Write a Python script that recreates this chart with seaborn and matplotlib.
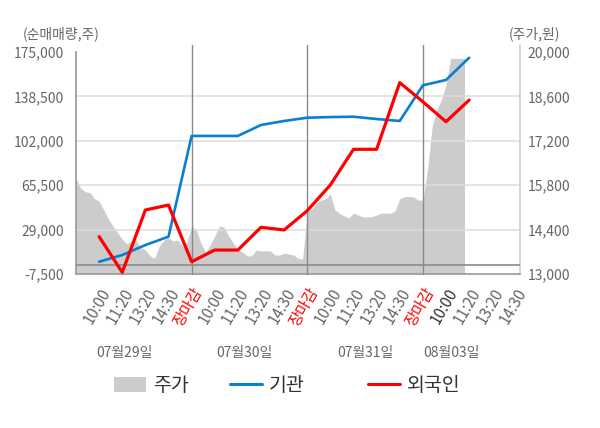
import numpy as np
import pandas as pd
import seaborn as sns
import matplotlib
matplotlib.use("Agg")
import matplotlib.pyplot as plt
import matplotlib.transforms as mtransforms
from matplotlib.patches import Patch
from matplotlib.lines import Line2D

# ---------------- data ----------------
tick_labels = ["10:00", "11:20", "13:20", "14:30", "장마감",
               "10:00", "11:20", "13:20", "14:30", "장마감",
               "10:00", "11:20", "13:20", "14:30", "장마감",
               "10:00", "11:20", "13:20", "14:30"]
day_labels = ["07월29일", "07월30일", "07월31일", "08월03일"]
series_names = ["주가", "기관", "외국인"]

# net buying volume (shares)
inst = [2600, 8100, 16300, 23200, 106000, 106000, 106000, 115000, 118300,
        121000, 121500, 121800, 119900, 118300, 147600, 152000, 170300]
foreign = [23200, -6100, 45100, 49200, 2600, 12200, 12200, 30900, 28700,
           44500, 65700, 95000, 95000, 149800, 134100, 117700, 135500]

# intraday stock price (won), sampled every 0.2 slot starting at slot -1
price = [16030, 15710, 15590, 15570, 15370, 15300, 15020, 14730, 14510, 14290,
         14100, 13950, 14040, 14070, 13820, 13760, 13570, 13500, 13880, 14070,
         14140, 14040, 14070, 13880, 14010, 14510, 14390, 13980, 13690, 13910,
         14200, 14510, 14480, 14200, 13980, 13760, 13690, 13570, 13570, 13760,
         13730, 13730, 13730, 13600, 13600, 13660, 13630, 13600, 13500, 13470,
         14960, 15050, 15240, 15330, 15380, 15520, 15020, 14910, 14830, 14770,
         14920, 14860, 14800, 14800, 14810, 14860, 14920, 14920, 14920, 14990,
         15370, 15440, 15440, 15430, 15330, 15330, 16280, 17640, 18170, 18490,
         18960, 19800, 19800, 19800, 19800]

# ---------------- style ----------------
sns.set_theme(style="white")
plt.rcParams["font.family"] = ["Noto Sans CJK KR", "DejaVu Sans"]
plt.rcParams["axes.unicode_minus"] = False

GRAY_TXT = "#666666"
BLUE = "#0a7fd0"
RED = "#ff0000"
AREA = "#cccccc"

fig = plt.figure(figsize=(6.0, 4.28), dpi=100)
ax = fig.add_axes([76 / 600, 1 - 274 / 428, 444 / 600, 222 / 428])
ax2 = ax.twinx()
ax.set_zorder(ax2.get_zorder() + 1)
ax.patch.set_visible(False)
ax2.set_facecolor("#f4f4f4")

# price area (right axis)
px = -1.0 + 0.2 * np.arange(len(price))
ax2.fill_between(px, 13000, price, color=AREA, lw=0, zorder=1)
ax2.set_ylim(13000, 20000)
pt = [13000, 14400, 15800, 17200, 18600, 20000]
ax2.set_yticks(pt)
ax2.set_yticklabels([f"{v:,}" for v in pt])

# lines (left axis)
df = pd.DataFrame({"slot": np.arange(len(inst)), "기관": inst, "외국인": foreign})
sns.lineplot(data=df, x="slot", y="기관", ax=ax, color=BLUE, lw=1.9, zorder=5)
sns.lineplot(data=df, x="slot", y="외국인", ax=ax, color=RED, lw=2.3, zorder=6)

ax.set_xlim(-1.0, 18.2)
ax.set_ylim(-7500, 175000)
yt = [-7500, 29000, 65500, 102000, 138500, 175000]
ax.set_yticks(yt)
ax.set_yticklabels([f"{v:,}" for v in yt])
for v in yt[1:-1]:
    ax.axhline(v, color="#dcdcdc", lw=1.1, zorder=2)
ax.axhline(0, color="#8a8a8a", lw=1.2, zorder=3)

# day separators
for d in [4, 9, 14]:
    ax.axvline(d, ymin=0, ymax=1 + 7 / 222, color="#8a8a8a", lw=1.0, zorder=3, clip_on=False)
ax.plot([1, 1], [0, 1 + 7 / 222], transform=ax.transAxes, color="#cfcfcf", lw=1.2, clip_on=False)

ax.set_xticks(np.arange(len(tick_labels)))
ax.set_xticklabels(tick_labels, rotation=60, ha="right", va="top", rotation_mode="anchor")
ax.set_xticks([-1.0, 4, 9, 14, 18.2], minor=True)
ax.tick_params(axis="x", which="major", length=0, pad=8, labelsize=11, labelcolor=GRAY_TXT)
ax.tick_params(axis="x", which="minor", length=4, width=1, color="#8a8a8a")
ax.tick_params(axis="y", length=0, pad=8.6, labelsize=10, labelcolor=GRAY_TXT)
ax2.tick_params(axis="y", length=0, pad=5.5, labelsize=10, labelcolor=GRAY_TXT)
for lab in ax.get_xticklabels():
    if lab.get_text() == "장마감":
        lab.set_color(RED)
ax.get_xticklabels()[15].set_color("#333333")

ax.set_xlabel("")
ax.set_ylabel("")
ax2.set_ylabel("")
for a in (ax, ax2):
    for s in a.spines.values():
        s.set_visible(False)
ax.spines["left"].set_visible(True)
ax.spines["left"].set_color("#9a9a9a")
ax.spines["bottom"].set_visible(True)
ax.spines["bottom"].set_color("#9a9a9a")
ax.spines["bottom"].set_linewidth(1.2)

# date labels
trans = mtransforms.blended_transform_factory(ax.transData, ax.transAxes)
for xpos, lab in zip([1.106, 6.295, 11.53, 15.25], day_labels):
    ax.text(xpos, -79 / 222, lab, transform=trans, ha="center", va="center",
            fontsize=10, color=GRAY_TXT)

# axis titles
fig.text(22.7 / 600, 1 - 33.3 / 428, "(순매매량,주)", ha="left", va="center", fontsize=10, color=GRAY_TXT)
fig.text(509 / 600, 1 - 33.3 / 428, "(주가,원)", ha="left", va="center", fontsize=10, color=GRAY_TXT)

# legend: one entry per legend, placed like the reference
handles = [Patch(facecolor=AREA, edgecolor="none"),
           Line2D([], [], color=BLUE, lw=2.2),
           Line2D([], [], color=RED, lw=2.2)]
for h, name, x0 in zip(handles, series_names, [114, 230, 368]):
    leg = fig.legend([h], [name], loc="center left",
                     bbox_to_anchor=(x0 / 600, 1 - 385.8 / 428), frameon=False,
                     fontsize=14, handlelength=1.65, handleheight=0.78, handletextpad=0.35,
                     borderpad=0, borderaxespad=0)
    for t in leg.get_texts():
        t.set_color("#333333")

fig.savefig("out.png", dpi=100)
